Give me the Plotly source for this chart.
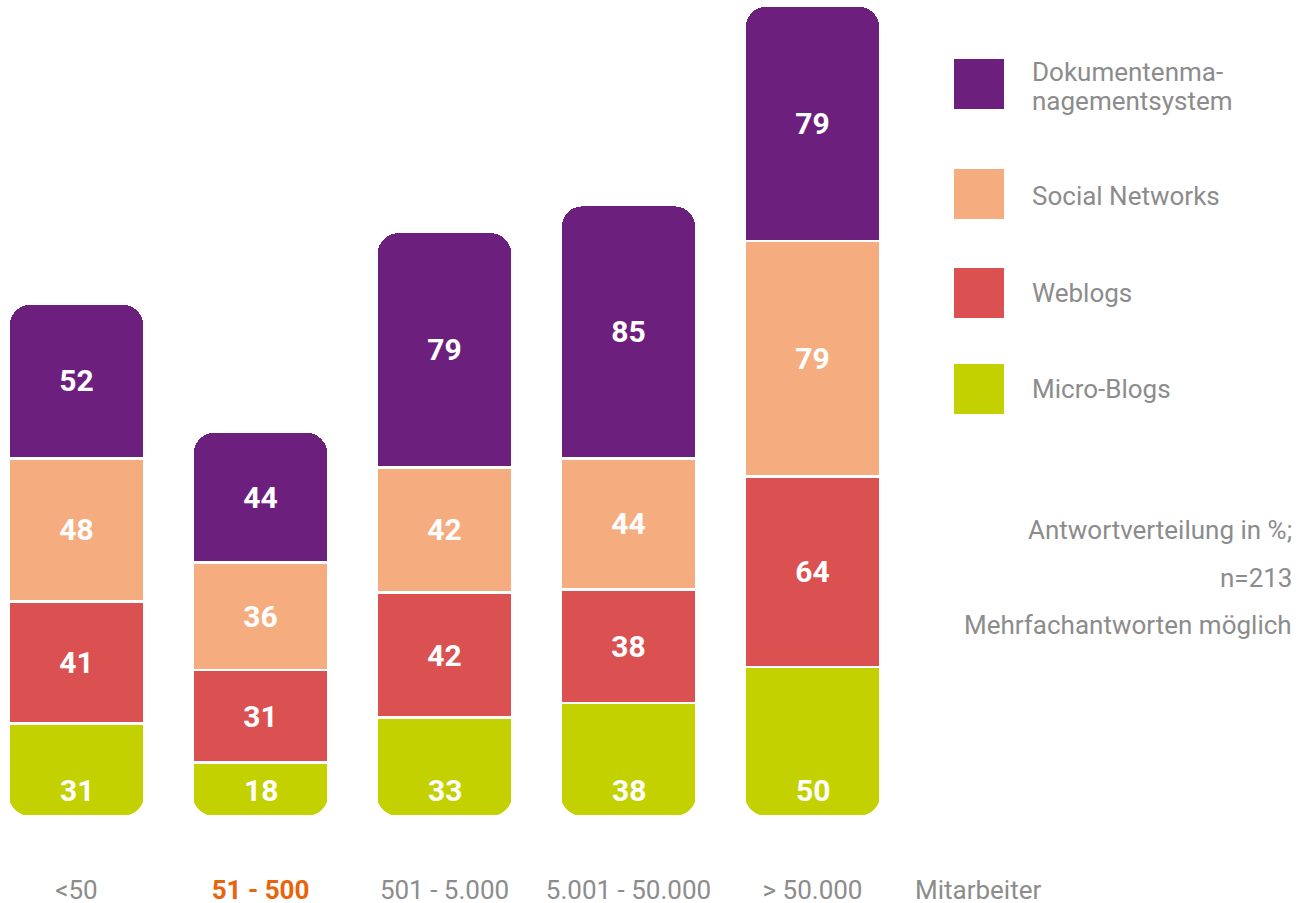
import plotly.graph_objects as go

# ---------------- data ----------------
categories = ["<50", "51 - 500", "501 - 5.000", "5.001 - 50.000", "> 50.000"]
highlight_category = "51 - 500"
micro_blogs = [31, 18, 33, 38, 50]
weblogs = [41, 31, 42, 38, 64]
social_networks = [48, 36, 42, 44, 79]
dokumentenmanagement = [52, 44, 79, 85, 79]
series_names = ["Micro-Blogs", "Weblogs", "Social Networks", "Dokumentenmanagementsystem"]
legend_labels = [["Dokumentenma-", "nagementsystem"], ["Social Networks"], ["Weblogs"], ["Micro-Blogs"]]
notes = ["Antwortverteilung in %;", "n=213", "Mehrfachantworten möglich"]
axis_title = "Mitarbeiter"

# ---------------- style ----------------
W, H = 1308, 903
FONT = "Roboto"
GRAY = "#8c8c8c"
ORANGE = "#E8630A"
colors = {
    "Micro-Blogs": "#C3D100",
    "Weblogs": "#DB5050",
    "Social Networks": "#F5AD80",
    "Dokumentenmanagementsystem": "#6D1F7E",
}
M_T, M_B = 4, 87
PLOT_BOTTOM = H - M_B
PLOT_H = H - M_T - M_B
BARGAP = 0.261
RADIUS = 22
PX_PER_UNIT = 2.98


def py(pix):  # pixel (from top) -> paper y
    return (PLOT_BOTTOM - pix) / PLOT_H


def px(pix):
    return pix / W


series_values = [micro_blogs, weblogs, social_networks, dokumentenmanagement]

fig = go.Figure()
for name, vals in zip(series_names, series_values):
    is_bottom = name == "Micro-Blogs"
    fig.add_trace(go.Bar(
        x=categories, y=vals, name=name,
        marker=dict(color=colors[name], line=dict(color="white", width=2.5)),
        text=[str(v) for v in vals],
        textposition="none" if is_bottom else "inside",
        insidetextanchor="middle",
        textangle=0,
        textfont=dict(family=FONT, size=30, color="white", weight="bold"),
        hoverinfo="skip",
    ))

annotations = []
# bottom-segment labels sit near the base of each bar
for c, v in zip(categories, micro_blogs):
    annotations.append(dict(
        x=c, y=0, xref="x", yref="y", yanchor="middle", yshift=26,
        text=str(v), showarrow=False,
        font=dict(family=FONT, size=30, color="white", weight="bold"),
    ))

# axis title
annotations.append(dict(
    x=px(978), y=py(890), xref="paper", yref="paper", xanchor="center", yanchor="middle",
    text=axis_title, showarrow=False, font=dict(family=FONT, size=26, color=GRAY),
))

# legend (custom big swatches)
shapes = []
legend_order = ["Dokumentenmanagementsystem", "Social Networks", "Weblogs", "Micro-Blogs"]
swatch_centers = [84, 194, 293, 389]
text_lines_y = [[72, 101], [196], [293], [389]]
for name, cy, lines, ly in zip(legend_order, swatch_centers, legend_labels, text_lines_y):
    shapes.append(dict(
        type="rect", xref="paper", yref="paper",
        x0=px(954), x1=px(1004), y0=py(cy + 25), y1=py(cy - 25),
        fillcolor=colors[name], line=dict(width=0), layer="above",
    ))
    for t, yy in zip(lines, ly):
        annotations.append(dict(
            x=px(1030), y=py(yy), xref="paper", yref="paper", xanchor="left", yanchor="middle",
            text=t, showarrow=False, font=dict(family=FONT, size=26, color=GRAY),
        ))

for t, yy in zip(notes, [530, 578, 625]):
    annotations.append(dict(
        x=px(1294), y=py(yy), xref="paper", yref="paper", xanchor="right", yanchor="middle",
        text=t, showarrow=False, font=dict(family=FONT, size=26, color=GRAY),
    ))

# round the bottom corners of every stack (white corner masks)
half = (1 - BARGAP) / 2
k = 0.5523
r = RADIUS
c1 = r * (1 - k)
left_mask = f"M -3 -3 L {r} -3 L {r} 0 C {c1} 0 0 {c1} 0 {r} L -3 {r} Z"
right_mask = f"M 3 -3 L {-r} -3 L {-r} 0 C {-c1} 0 0 {c1} 0 {r} L 3 {r} Z"
for i, _ in enumerate(categories):
    for anchor, path in ((i - half, left_mask), (i + half, right_mask)):
        shapes.append(dict(
            type="path", xref="x", yref="y", xsizemode="pixel", ysizemode="pixel",
            xanchor=anchor, yanchor=0, path=path,
            fillcolor="white", line=dict(width=0), layer="above",
        ))

ticktext = [
    f"<b><span style='color:{ORANGE}'>{c}</span></b>" if c == highlight_category else c
    for c in categories
]

fig.update_layout(
    width=W, height=H,
    margin=dict(l=0, r=0, t=M_T, b=M_B, pad=0, autoexpand=False),
    paper_bgcolor="white", plot_bgcolor="white",
    barmode="stack", bargap=BARGAP, barcornerradius=RADIUS,
    showlegend=False,
    font=dict(family=FONT, color=GRAY),
    xaxis=dict(
        type="category", categoryorder="array", categoryarray=categories,
        range=[-76.5 / 184, (W - 76.5) / 184],
        tickmode="array", tickvals=categories, ticktext=ticktext,
        tickfont=dict(family=FONT, size=26, color=GRAY),
        ticklabelstandoff=56, automargin=False,
        showgrid=False, zeroline=False, showline=False, ticks="",
    ),
    yaxis=dict(range=[0, PLOT_H / PX_PER_UNIT], visible=False, showgrid=False,
               zeroline=False, automargin=False),
    annotations=annotations,
    shapes=shapes,
)

fig.write_html(
    "out.html",
    config={"displayModeBar": False},
    post_script="document.body.style.margin='0';document.body.style.overflow='hidden';",
)
